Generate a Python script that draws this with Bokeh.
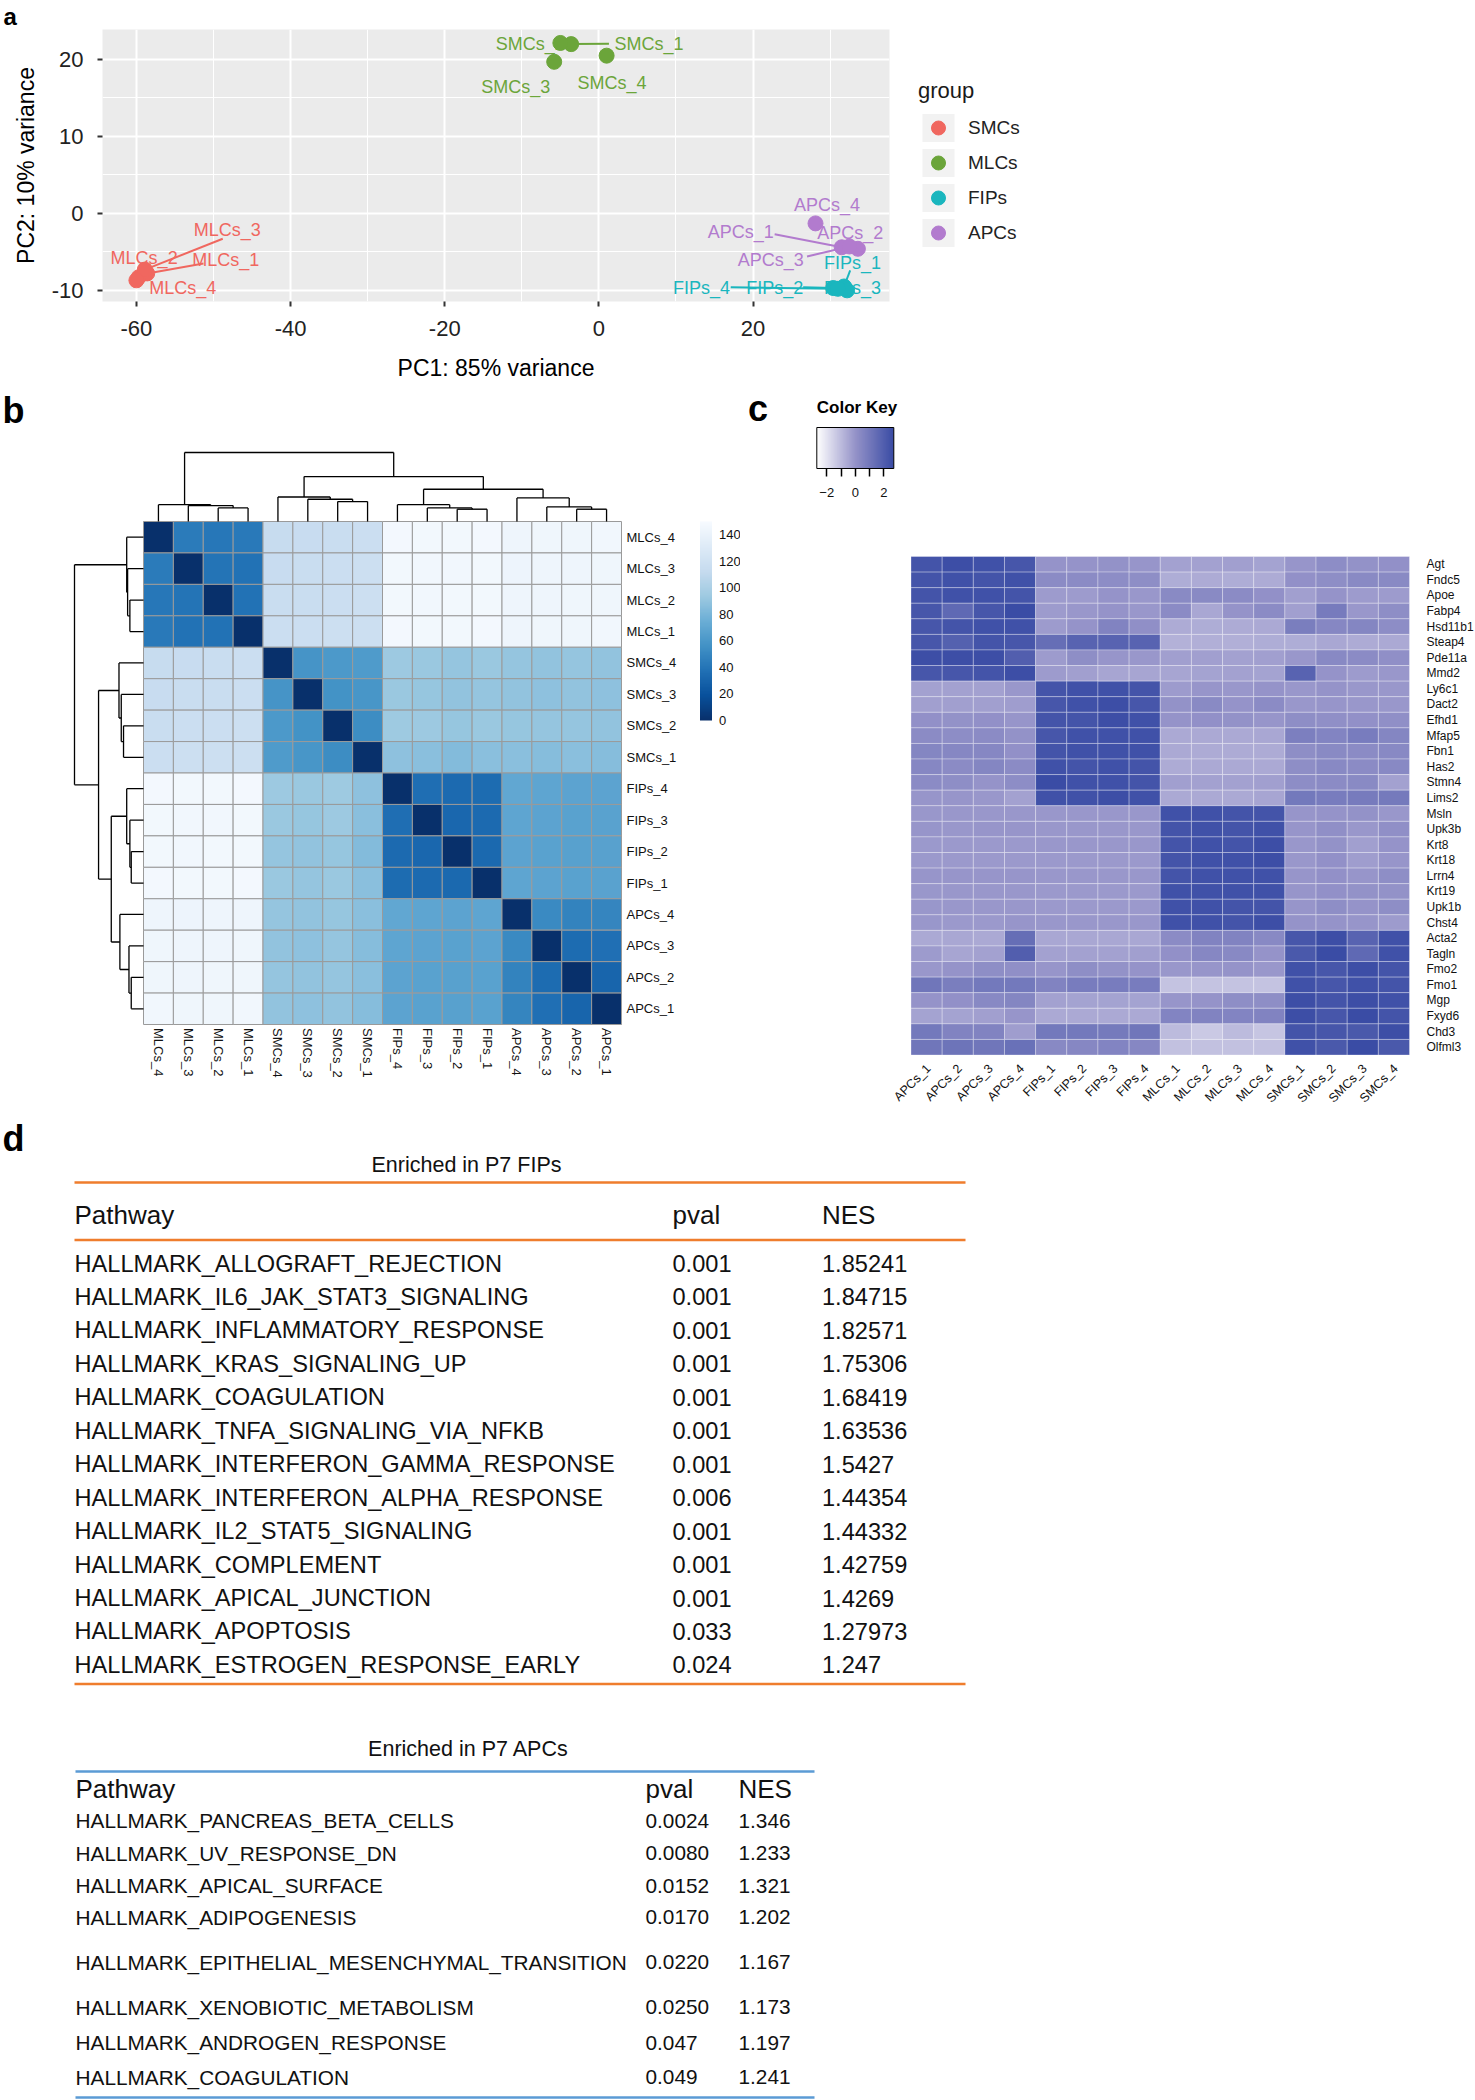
import math
from bokeh.plotting import figure
from bokeh.models import (ColumnDataSource, Range1d, FixedTicker, Legend, LegendItem,
                          Label, ColorBar, LinearColorMapper, Title)
from bokeh.layouts import column, row
from bokeh.embed import file_html
from bokeh.resources import INLINE
from bokeh.core.properties import value

FONT = "Liberation Sans"

# ======================= DATA =======================
# ---- panel a : PCA ----
pca_groups = ["SMCs", "MLCs", "FIPs", "APCs"]
pca_colors = ["#F0675F", "#6BA53A", "#1AB6BE", "#B27BCE"]
pca_sample = ["MLCs_1", "MLCs_2", "MLCs_3", "MLCs_4",
              "SMCs_1", "SMCs_2", "SMCs_3", "SMCs_4",
              "FIPs_1", "FIPs_2", "FIPs_3", "FIPs_4",
              "APCs_1", "APCs_2", "APCs_3", "APCs_4"]
pca_group = ["SMCs", "SMCs", "SMCs", "SMCs",
             "MLCs", "MLCs", "MLCs", "MLCs",
             "FIPs", "FIPs", "FIPs", "FIPs",
             "APCs", "APCs", "APCs", "APCs"]
pca_pc1 = [-58.6, -59.7, -58.9, -60.0, -3.6, -5.0, -5.8, 1.0,
           31.8, 30.4, 32.2, 31.0, 31.5, 33.6, 32.5, 28.1]
pca_pc2 = [-7.8, -8.3, -7.3, -8.7, 22.0, 22.15, 19.7, 20.5,
           -9.5, -9.7, -10.0, -9.8, -4.4, -4.6, -4.3, -1.3]
pca_label_x = [-48.4, -59.0, -48.2, -54.0, 6.5, -8.9, -10.8, 1.7,
               32.9, 22.8, 32.9, 13.3, 18.4, 32.6, 22.3, 29.6]
pca_label_y = [-6.1, -5.75, -2.2, -9.7, 22.0, 22.0, 16.4, 16.9,
               -6.4, -9.65, -9.65, -9.65, -2.4, -2.5, -6.1, 1.1]
seg_sample = ["MLCs_1", "MLCs_3", "SMCs_1", "FIPs_1", "FIPs_2", "FIPs_4", "APCs_1", "APCs_3"]
seg_x0 = [-51.3, -48.8, 1.3, 32.6, 26.5, 17.1, 22.8, 27.0]
seg_y0 = [-6.5, -3.3, 22.05, -7.4, -9.6, -9.6, -2.7, -5.6]
pca_xticks = [-60, -40, -20, 0, 20]
pca_yticks = [-10, 0, 10, 20]

# ---- panel b : sample distance heatmap ----
dist_labels = ["MLCs_4", "MLCs_3", "MLCs_2", "MLCs_1", "SMCs_4", "SMCs_3", "SMCs_2", "SMCs_1",
               "FIPs_4", "FIPs_3", "FIPs_2", "FIPs_1", "APCs_4", "APCs_3", "APCs_2", "APCs_1"]
dist_matrix = [
    [0, 43, 41, 42, 113, 114, 115, 116, 147, 146, 146, 147, 143, 144, 144, 145],
    [43, 0, 39, 38, 114, 115, 116, 117, 146, 145, 145, 146, 142, 143, 143, 144],
    [41, 39, 0, 38, 115, 115, 116, 117, 146, 145, 146, 146, 143, 143, 144, 144],
    [42, 38, 38, 0, 116, 116, 117, 117, 147, 146, 146, 147, 143, 144, 144, 145],
    [113, 114, 115, 116, 0, 58, 61, 62, 93, 92, 90, 92, 90, 89, 90, 89],
    [114, 115, 115, 116, 58, 0, 57, 59, 92, 91, 89, 90, 89, 88, 89, 88],
    [115, 116, 116, 117, 61, 57, 0, 53, 94, 93, 91, 92, 91, 90, 90, 89],
    [116, 117, 117, 117, 62, 59, 53, 0, 88, 86, 84, 86, 86, 85, 86, 85],
    [147, 146, 146, 147, 93, 92, 94, 88, 0, 36, 34, 35, 70, 69, 68, 68],
    [146, 145, 145, 146, 92, 91, 93, 86, 36, 0, 32, 34, 69, 68, 67, 67],
    [146, 145, 146, 146, 90, 89, 91, 84, 34, 32, 0, 33, 68, 67, 66, 66],
    [147, 146, 146, 147, 92, 90, 92, 86, 35, 34, 33, 0, 69, 68, 67, 67],
    [143, 142, 143, 143, 90, 89, 91, 86, 70, 69, 68, 69, 0, 52, 48, 49],
    [144, 143, 143, 144, 89, 88, 90, 85, 69, 68, 67, 68, 52, 0, 35, 37],
    [144, 143, 144, 144, 90, 89, 90, 86, 68, 67, 66, 67, 48, 35, 0, 31],
    [145, 144, 144, 145, 89, 88, 89, 85, 68, 67, 66, 67, 49, 37, 31, 0],
]
# hierarchical clustering (leaf ids 0..15, merged clusters 16..30)
link_a = [2, 1, 0, 6, 5, 4, 10, 9, 8, 14, 13, 12, 24, 21, 18]
link_b = [3, 16, 17, 7, 19, 20, 11, 22, 23, 15, 25, 26, 27, 28, 29]
link_h = [30, 35, 37, 44, 49, 54, 27, 30, 37, 27, 32, 52, 71, 99, 152]
dist_ticks = [0, 20, 40, 60, 80, 100, 120, 140]
dist_max = 150
blues9 = ["#08306b", "#08519c", "#2171b5", "#4292c6", "#6baed6",
          "#9ecae1", "#c6dbef", "#deebf7", "#f7fbff"]

# ---- panel c : marker-gene z-score heatmap ----
expr_samples = ["APCs_1", "APCs_2", "APCs_3", "APCs_4", "FIPs_1", "FIPs_2", "FIPs_3", "FIPs_4",
                "MLCs_1", "MLCs_2", "MLCs_3", "MLCs_4", "SMCs_1", "SMCs_2", "SMCs_3", "SMCs_4"]
expr_genes = ["Agt", "Fndc5", "Apoe", "Fabp4", "Hsd11b1", "Steap4", "Pde11a", "Mmd2",
              "Ly6c1", "Dact2", "Efhd1", "Mfap5", "Fbn1", "Has2", "Stmn4", "Lims2",
              "Msln", "Upk3b", "Krt8", "Krt18", "Lrrn4", "Krt19", "Upk1b", "Chst4",
              "Acta2", "Tagln", "Fmo2", "Fmo1", "Mgp", "Fxyd6", "Chd3", "Olfml3"]
expr_z = [
    [2.4, 2.6, 2.5, 2.3, 0.0, 0.0, 0.05, -0.05, -0.35, -0.35, -0.3, -0.4, -0.05, 0.25, 0.05, 0.1],
    [2.4, 2.5, 2.4, 2.5, 0.3, 0.3, 0.25, 0.2, -0.65, -0.6, -0.65, -0.6, 0.1, 0.2, 0.35, 0.35],
    [2.4, 2.5, 2.5, 2.4, -0.2, -0.2, 0.0, -0.1, 0.35, 0.35, 0.3, 0.1, -0.3, 0.0, -0.2, -0.2],
    [2.3, 1.6, 2.3, 2.7, -0.2, -0.1, 0.0, -0.1, 0.3, -0.5, 0.0, 0.3, -0.3, 0.9, -0.1, 0.2],
    [2.3, 2.4, 2.5, 2.5, -0.2, 0.0, 0.6, 0.15, -0.6, -0.65, -0.6, -0.55, 0.8, 0.45, 0.5, 0.25],
    [2.3, 1.9, 2.4, 2.3, 1.4, 1.8, 1.8, 1.8, -0.75, -0.7, -0.7, -0.65, -0.65, -0.5, -0.6, -0.55],
    [2.6, 2.6, 2.6, 2.0, -0.2, 0.2, -0.05, -0.1, -0.3, -0.3, -0.35, -0.3, -0.1, 0.4, 0.3, 0.15],
    [2.3, 2.3, 2.4, 2.6, -0.2, -0.3, -0.45, -0.45, -0.45, -0.4, -0.35, -0.4, 1.8, 0.0, -0.2, -0.1],
    [-0.35, -0.35, -0.35, -0.1, 2.4, 2.5, 2.5, 2.4, -0.2, -0.05, -0.1, 0.0, -0.1, 0.0, -0.1, -0.1],
    [-0.3, -0.3, -0.3, -0.25, 2.3, 2.5, 2.6, 2.3, 0.05, 0.35, 0.0, 0.3, -0.1, -0.05, -0.1, -0.1],
    [0.1, 0.05, 0.1, -0.05, 2.4, 2.4, 2.6, 2.5, 0.0, 0.1, 0.05, -0.05, 0.2, 0.15, 0.1, 0.15],
    [0.3, 0.25, 0.3, 0.05, 2.3, 2.5, 2.5, 2.5, -0.55, -0.55, -0.55, -0.5, 0.75, 0.55, 0.85, 0.5],
    [0.5, 0.45, 0.45, 0.1, 2.4, 2.5, 2.5, 2.5, -0.55, -0.6, -0.6, -0.6, 0.2, 0.35, 0.3, 0.4],
    [0.45, 0.3, 0.5, 0.3, 2.5, 2.4, 2.5, 2.4, -0.6, -0.55, -0.55, -0.55, 0.2, 0.4, 0.3, 0.4],
    [0.3, 0.2, 0.0, 0.25, 2.7, 2.5, 2.5, 2.4, -0.3, -0.35, -0.35, -0.3, 0.25, 0.3, 0.35, -0.35],
    [-0.05, -0.05, -0.1, -0.35, 2.5, 2.5, 2.6, 2.5, -0.55, -0.55, -0.55, -0.45, 1.0, 0.85, 0.9, 0.95],
    [-0.1, -0.1, -0.1, -0.1, -0.1, -0.1, -0.1, -0.1, 2.5, 2.5, 2.4, 2.4, -0.05, 0.0, 0.05, -0.1],
    [-0.05, -0.1, -0.05, -0.05, -0.1, -0.1, -0.1, -0.1, 2.4, 2.5, 2.4, 2.5, -0.05, 0.15, -0.1, 0.15],
    [-0.15, -0.15, -0.15, -0.15, -0.1, -0.1, -0.1, -0.1, 2.4, 2.5, 2.4, 2.6, -0.1, 0.05, -0.3, 0.0],
    [-0.15, -0.15, -0.15, -0.15, -0.15, -0.15, -0.15, -0.15, 2.4, 2.5, 2.5, 2.6, -0.1, 0.1, -0.25, -0.05],
    [-0.05, -0.05, -0.05, -0.05, -0.1, -0.1, -0.1, -0.1, 2.4, 2.5, 2.5, 2.5, -0.05, 0.1, -0.05, 0.2],
    [-0.1, -0.1, -0.1, -0.1, -0.15, -0.15, -0.15, -0.15, 2.5, 2.5, 2.5, 2.5, -0.05, 0.1, 0.05, 0.05],
    [-0.1, -0.1, -0.1, -0.1, -0.15, -0.15, -0.15, -0.15, 2.5, 2.5, 2.4, 2.4, -0.05, 0.2, 0.0, 0.2],
    [-0.1, -0.15, -0.15, -0.05, -0.1, -0.1, -0.1, -0.1, 2.5, 2.5, 2.4, 2.6, 0.0, 0.0, -0.05, -0.2],
    [-0.55, -0.5, -0.55, 1.4, -0.5, -0.5, -0.5, -0.5, 0.3, 0.6, 0.6, 0.4, 2.3, 2.6, 1.8, 2.5],
    [-0.2, -0.45, -0.35, 2.0, -0.35, -0.35, -0.35, -0.3, 0.1, 0.45, 0.4, 0.0, 2.2, 2.7, 1.6, 2.5],
    [-0.1, 0.0, 0.2, 0.15, -0.05, 0.2, 0.05, 0.0, -0.1, -0.05, 0.0, -0.1, 2.5, 2.3, 2.6, 2.4],
    [1.1, 0.8, 1.0, 1.0, 0.6, 0.85, 0.85, 0.85, -1.2, -1.2, -1.2, -1.2, 2.5, 2.3, 2.5, 2.4],
    [0.0, 0.1, 0.4, 0.5, -0.35, -0.4, -0.4, -0.4, -0.05, 0.0, 0.2, 0.2, 2.6, 2.4, 2.6, 2.5],
    [-0.4, -0.4, -0.3, -0.05, -0.55, -0.55, -0.55, -0.55, 0.55, 0.6, 0.55, 0.6, 2.6, 2.3, 2.7, 2.4],
    [1.0, 0.6, 0.6, -0.25, 1.0, 1.0, 0.95, 1.1, -1.0, -1.35, -1.0, -1.25, 2.4, 2.3, 2.2, 2.6],
    [1.1, 1.2, 1.1, 1.3, 0.4, 0.45, 0.55, 0.45, -1.15, -1.15, -1.15, -1.15, 2.5, 2.2, 2.7, 2.2],
]
z_low, z_high = -2.7, 2.7
key_ticks = [-2, -1, 0, 1, 2]
key_tick_text = {-2: "\u22122", -1: "", 0: "0", 1: "", 2: "2"}
z_stops = ["#FFFFFF", "#9593C9", "#3A4CA5"]

# ---- panel d : GSEA tables ----
fip_title = "Enriched in P7 FIPs"
fip_pathway = ["HALLMARK_ALLOGRAFT_REJECTION", "HALLMARK_IL6_JAK_STAT3_SIGNALING",
               "HALLMARK_INFLAMMATORY_RESPONSE", "HALLMARK_KRAS_SIGNALING_UP",
               "HALLMARK_COAGULATION", "HALLMARK_TNFA_SIGNALING_VIA_NFKB",
               "HALLMARK_INTERFERON_GAMMA_RESPONSE", "HALLMARK_INTERFERON_ALPHA_RESPONSE",
               "HALLMARK_IL2_STAT5_SIGNALING", "HALLMARK_COMPLEMENT",
               "HALLMARK_APICAL_JUNCTION", "HALLMARK_APOPTOSIS",
               "HALLMARK_ESTROGEN_RESPONSE_EARLY"]
fip_pval = ["0.001", "0.001", "0.001", "0.001", "0.001", "0.001", "0.001",
            "0.006", "0.001", "0.001", "0.001", "0.033", "0.024"]
fip_nes = ["1.85241", "1.84715", "1.82571", "1.75306", "1.68419", "1.63536", "1.5427",
           "1.44354", "1.44332", "1.42759", "1.4269", "1.27973", "1.247"]
apc_title = "Enriched in P7 APCs"
apc_pathway = ["HALLMARK_PANCREAS_BETA_CELLS", "HALLMARK_UV_RESPONSE_DN",
               "HALLMARK_APICAL_SURFACE", "HALLMARK_ADIPOGENESIS",
               "HALLMARK_EPITHELIAL_MESENCHYMAL_TRANSITION", "HALLMARK_XENOBIOTIC_METABOLISM",
               "HALLMARK_ANDROGEN_RESPONSE", "HALLMARK_COAGULATION"]
apc_pval = ["0.0024", "0.0080", "0.0152", "0.0170", "0.0220", "0.0250", "0.047", "0.049"]
apc_nes = ["1.346", "1.233", "1.321", "1.202", "1.167", "1.173", "1.197", "1.241"]
table_headers = ["Pathway", "pval", "NES"]


# ======================= helpers =======================
def ramp(stops, n=256):
    rgb = [tuple(int(s[i:i + 2], 16) for i in (1, 3, 5)) for s in stops]
    out = []
    for i in range(n):
        t = i / (n - 1) * (len(rgb) - 1)
        k = min(int(t), len(rgb) - 2)
        f = t - k
        c = [round(rgb[k][j] + (rgb[k + 1][j] - rgb[k][j]) * f) for j in range(3)]
        out.append("#%02x%02x%02x" % tuple(c))
    return out


def blank(width, height, xr, yr):
    p = figure(width=width, height=height, x_range=xr, y_range=yr, min_border=0,
               x_axis_location=None, y_axis_location=None, toolbar_location=None,
               output_backend="svg", title=None)
    p.grid.visible = False
    p.outline_line_color = None
    p.background_fill_color = None
    p.border_fill_color = "white"
    return p


LETTER_DY = 12  # Label anchor correction (px)


def panel_letter(p, text, x, y):
    p.add_layout(Label(x=x, y=y + LETTER_DY, x_units="screen", y_units="screen", text=text,
                       text_font=FONT, text_font_size="36px", text_font_style="bold",
                       text_baseline="alphabetic", text_color="black"))


PAGE_W = 1475

# ======================= panel a =======================
A_H = 388
A_FL, A_FT, A_FW, A_FH = 102, 29, 787, 272
pA = figure(frame_width=A_FW, frame_height=A_FH, min_border_left=A_FL,
            min_border_right=PAGE_W - A_FL - A_FW, min_border_top=A_FT,
            min_border_bottom=A_H - A_FT - A_FH,
            x_range=Range1d(-64.4, 37.7), y_range=Range1d(-11.45, 23.9),
            toolbar_location=None, output_backend="svg", title=None)
pA.add_layout(Title(text="a", align="left", offset=-(A_FL - 3), standoff=0,
                    text_font=FONT, text_font_size="24px", text_font_style="bold",
                    text_color="black"), "above")
pA.background_fill_color = "#EBEBEB"
pA.border_fill_color = "white"
pA.outline_line_color = None
pA.xaxis.ticker = FixedTicker(ticks=pca_xticks, minor_ticks=[-50, -30, -10, 10, 30])
pA.yaxis.ticker = FixedTicker(ticks=pca_yticks, minor_ticks=[-5, 5, 15])
pA.xaxis.major_label_overrides = {t: str(t) for t in pca_xticks}
pA.yaxis.major_label_overrides = {t: str(t) for t in pca_yticks}
pA.grid.grid_line_color = "white"
pA.grid.grid_line_width = 2
pA.grid.minor_grid_line_color = "white"
pA.grid.minor_grid_line_width = 1
pA.axis.axis_line_color = None
pA.axis.major_tick_line_color = "#333333"
pA.axis.major_tick_line_width = 2
pA.axis.major_tick_out = 5
pA.axis.major_tick_in = 0
pA.axis.minor_tick_line_color = None
pA.axis.major_label_text_font = FONT
pA.axis.major_label_text_font_size = "22px"
pA.axis.major_label_text_color = "#222222"
pA.xaxis.major_label_standoff = 14
pA.yaxis.major_label_standoff = 14
pA.axis.axis_label_text_font = FONT
pA.axis.axis_label_text_font_size = "23px"
pA.axis.axis_label_text_font_style = "normal"
pA.axis.axis_label_text_color = "black"
pA.xaxis.axis_label = "PC1: 85% variance"
pA.yaxis.axis_label = "PC2: 10% variance"
pA.xaxis.axis_label_standoff = 16
pA.yaxis.axis_label_standoff = 10

col_of = dict(zip(pca_groups, pca_colors))
pt = {s: (x, y) for s, x, y in zip(pca_sample, pca_pc1, pca_pc2)}
grp = dict(zip(pca_sample, pca_group))

seg_src = ColumnDataSource(dict(
    x0=seg_x0, y0=seg_y0,
    x1=[pt[s][0] for s in seg_sample], y1=[pt[s][1] for s in seg_sample],
    c=[col_of[grp[s]] for s in seg_sample]))
pA.segment("x0", "y0", "x1", "y1", source=seg_src, line_color="c", line_width=2)

lab_src = ColumnDataSource(dict(x=pca_label_x, y=pca_label_y, t=pca_sample,
                                c=[col_of[g] for g in pca_group]))
pA.text("x", "y", text="t", source=lab_src, text_color="c", text_font=value(FONT),
        text_font_size=value("18px"), text_align="center", text_baseline="middle")

nan = float("nan")
key_bg = pA.quad(left=[nan], right=[nan], top=[nan], bottom=[nan],
                 fill_color="#F2F2F2", line_color=None)
items = []
for g, c in zip(pca_groups, pca_colors):
    idx = [i for i, gg in enumerate(pca_group) if gg == g]
    src = ColumnDataSource(dict(x=[pca_pc1[i] for i in idx], y=[pca_pc2[i] for i in idx]))
    r = pA.scatter("x", "y", source=src, size=15, marker="circle", fill_color=c, line_color=c)
    items.append(LegendItem(label=g, renderers=[key_bg, r]))
legend = Legend(items=items, location=(29, 51), title="group",
                title_text_font=FONT, title_text_font_size="22px", title_text_font_style="normal",
                title_text_color="#1a1a1a", title_standoff=6,
                label_text_font=FONT, label_text_font_size="19px", label_text_color="#222222",
                glyph_width=40, glyph_height=35, spacing=0, padding=0, margin=0,
                label_standoff=10, border_line_alpha=0, background_fill_alpha=0)
pA.add_layout(legend, "right")

# ======================= panel b =======================
B_X, B_Y, B_W, B_H = 0, 388, 740, 720
HB_L, HB_R, HB_T, HB_B = 143, 621, 521, 1024
nB = len(dist_labels)
cwB = (HB_R - HB_L) / nB
chB = (HB_B - HB_T) / nB
pB = blank(B_W, B_H,
           Range1d((B_X - HB_L) / cwB, (B_X + B_W - HB_L) / cwB),
           Range1d((HB_B - (B_Y + B_H)) / chB, (HB_B - B_Y) / chB))
blues = ramp(blues9, 255)
mapB = LinearColorMapper(palette=blues, low=0, high=dist_max)
cx, cy, cv = [], [], []
for k in range(nB):
    for j in range(nB):
        cx.append(j + 0.5)
        cy.append(nB - k - 0.5)
        cv.append(dist_matrix[k][j])
pB.rect("x", "y", 1, 1, source=ColumnDataSource(dict(x=cx, y=cy, v=cv)),
        fill_color={"field": "v", "transform": mapB}, line_color="#9a9a9a", line_width=1)

# dendrograms from the linkage
pos = {i: i + 0.5 for i in range(nB)}
hgt = {i: 0.0 for i in range(nB)}
dsegs = []
for m, (a, b, h) in enumerate(zip(link_a, link_b, link_h)):
    dsegs.append((pos[a], hgt[a], pos[a], h))
    dsegs.append((pos[b], hgt[b], pos[b], h))
    dsegs.append((pos[a], h, pos[b], h))
    pos[nB + m] = (pos[a] + pos[b]) / 2
    hgt[nB + m] = h
DENDRO_PX = 69
top_scale = DENDRO_PX / max(link_h) / chB
left_scale = DENDRO_PX / max(link_h) / cwB
pB.segment([s[0] for s in dsegs], [nB + s[1] * top_scale for s in dsegs],
           [s[2] for s in dsegs], [nB + s[3] * top_scale for s in dsegs],
           line_color="black", line_width=1.3)
pB.segment([-s[1] * left_scale for s in dsegs], [nB - s[0] for s in dsegs],
           [-s[3] * left_scale for s in dsegs], [nB - s[2] for s in dsegs],
           line_color="black", line_width=1.3)
pB.text([nB + 5 / cwB] * nB, [nB - k - 0.5 for k in range(nB)], text=dist_labels,
        text_font=value(FONT), text_font_size=value("13px"), text_color="#111111",
        text_align="left", text_baseline="middle")
pB.text([j + 0.5 for j in range(nB)], [-3.5 / chB] * nB, text=dist_labels, angle=-math.pi / 2,
        text_font=value(FONT), text_font_size=value("13px"), text_color="#111111",
        text_align="left", text_baseline="middle")
cbB = ColorBar(color_mapper=mapB, ticker=FixedTicker(ticks=dist_ticks), width=12, height=199,
               location=(699.5 - B_X, B_Y + B_H - 720), padding=0, margin=0,
               major_tick_line_color=None, minor_tick_line_color=None,
               bar_line_color=None, border_line_color=None, background_fill_alpha=0,
               major_label_text_font=FONT, major_label_text_font_size="13px",
               major_label_text_color="#111111", label_standoff=7)
pB.add_layout(cbB)
panel_letter(pB, "b", 2, B_Y + B_H - 422)

# ======================= panel c =======================
C_X, C_Y, C_W, C_H = 740, 388, PAGE_W - 740, 720
HC_L, HC_R, HC_T, HC_B = 910.5, 1409, 556, 1054.5
nS, nG = len(expr_samples), len(expr_genes)
cwC = (HC_R - HC_L) / nS
chC = (HC_B - HC_T) / nG
pC = blank(C_W, C_H,
           Range1d((C_X - HC_L) / cwC, (C_X + C_W - HC_L) / cwC),
           Range1d((HC_B - (C_Y + C_H)) / chC, (HC_B - C_Y) / chC))
mapC = LinearColorMapper(palette=ramp(z_stops, 256), low=z_low, high=z_high)
ex, ey, ev = [], [], []
for k in range(nG):
    for j in range(nS):
        ex.append(j + 0.5)
        ey.append(nG - k - 0.5)
        ev.append(expr_z[k][j])
pC.rect("x", "y", 1, 1, source=ColumnDataSource(dict(x=ex, y=ey, v=ev)),
        fill_color={"field": "v", "transform": mapC}, line_color="white", line_alpha=0.3,
        line_width=1)
pC.text([nS + 17 / cwC] * nG, [nG - k - 0.5 for k in range(nG)], text=expr_genes,
        text_font=value(FONT), text_font_size=value("12px"), text_color="#111111",
        text_align="left", text_baseline="middle")
pC.text([j + 0.5 + 2 / cwC for j in range(nS)], [-11.5 / chC] * nS, text=expr_samples,
        angle=math.pi / 4, text_font=value(FONT), text_font_size=value("12.5px"),
        text_color="#111111", text_align="right", text_baseline="middle")
cbC = ColorBar(color_mapper=mapC, orientation="horizontal", width=77, height=41,
               ticker=FixedTicker(ticks=key_ticks), major_label_overrides=key_tick_text,
               location=(816.3 - C_X, C_Y + C_H - 499), padding=0, margin=0,
               major_tick_line_color="black", major_tick_line_width=1.5,
               major_tick_in=0, major_tick_out=8, minor_tick_line_color=None,
               bar_line_color="black", bar_line_width=1, border_line_color=None,
               background_fill_alpha=0, major_label_text_font=FONT,
               major_label_text_font_size="13px", major_label_text_color="#111111",
               label_standoff=11, title="Color Key", title_text_font=FONT,
               title_text_font_size="17px", title_text_font_style="bold",
               title_text_color="black", title_standoff=22)
pC.add_layout(cbC)
panel_letter(pC, "c", 747.6 - C_X, C_Y + C_H - 420)

# ======================= panel d =======================
D_X, D_Y, D_W, D_H = 0, 1108, PAGE_W, 2100 - 1108
pD = blank(D_W, D_H, Range1d(D_X, D_X + D_W), Range1d(D_Y + D_H, D_Y))
TXT = "#111111"

# table 1 layout
T1_LEFT, T1_RIGHT = 74, 965
T1_COLS = [74, 672, 821.5]
T1_TITLE_X, T1_TITLE_Y, T1_LINE1, T1_HEAD_Y, T1_LINE2 = 466, 1164, 1182, 1214, 1239.5
T1_ROW0, T1_PITCH, T1_LINE3 = 1263, 33.45, 1683.5
ORANGE = "#EF7D2D"
pD.text([T1_TITLE_X], [T1_TITLE_Y], text=[fip_title], text_font=value(FONT),
        text_font_size=value("21.5px"), text_color=TXT, text_align="center", text_baseline="middle")
pD.segment([T1_LEFT] * 3, [T1_LINE1, T1_LINE2, T1_LINE3], [T1_RIGHT] * 3,
           [T1_LINE1, T1_LINE2, T1_LINE3], line_color=ORANGE, line_width=2.5)
pD.text(T1_COLS, [T1_HEAD_Y] * 3, text=table_headers, text_font=value(FONT),
        text_font_size=value("26px"), text_color=TXT, text_align="left", text_baseline="middle")
ys1 = [T1_ROW0 + T1_PITCH * i for i in range(len(fip_pathway))]
for col_x, vals in zip(T1_COLS, [fip_pathway, fip_pval, fip_nes]):
    pD.text([col_x] * len(vals), ys1, text=vals, text_font=value(FONT),
            text_font_size=value("23.6px"), text_color=TXT, text_align="left",
            text_baseline="middle")

# table 2 layout
T2_LEFT, T2_RIGHT = 75, 814
T2_COLS = [75, 645, 738]
T2_TITLE_X, T2_TITLE_Y, T2_LINE1, T2_HEAD_Y, T2_LINE2 = 468, 1748, 1771, 1788.5, 2097
T2_ROW0 = 1820
T2_STEPS = [32.6, 32.4, 31.5, 45.0, 45.0, 35.6, 34.4]
BLUE = "#5B9BD5"
pD.text([T2_TITLE_X], [T2_TITLE_Y], text=[apc_title], text_font=value(FONT),
        text_font_size=value("21.5px"), text_color=TXT, text_align="center", text_baseline="middle")
pD.segment([T2_LEFT] * 2, [T2_LINE1, T2_LINE2], [T2_RIGHT] * 2, [T2_LINE1, T2_LINE2],
           line_color=BLUE, line_width=2.5)
pD.text(T2_COLS, [T2_HEAD_Y] * 3, text=table_headers, text_font=value(FONT),
        text_font_size=value("26px"), text_color=TXT, text_align="left", text_baseline="middle")
ys2 = [T2_ROW0]
for st in T2_STEPS:
    ys2.append(ys2[-1] + st)
for col_x, vals in zip(T2_COLS, [apc_pathway, apc_pval, apc_nes]):
    pD.text([col_x] * len(vals), ys2, text=vals, text_font=value(FONT),
            text_font_size=value("20.8px"), text_color=TXT, text_align="left",
            text_baseline="middle")
panel_letter(pD, "d", 2, D_Y + D_H - 1150)

layout = column(pA, row(pB, pC), row(pD))
open("out.html", "w").write(file_html(layout, INLINE))
